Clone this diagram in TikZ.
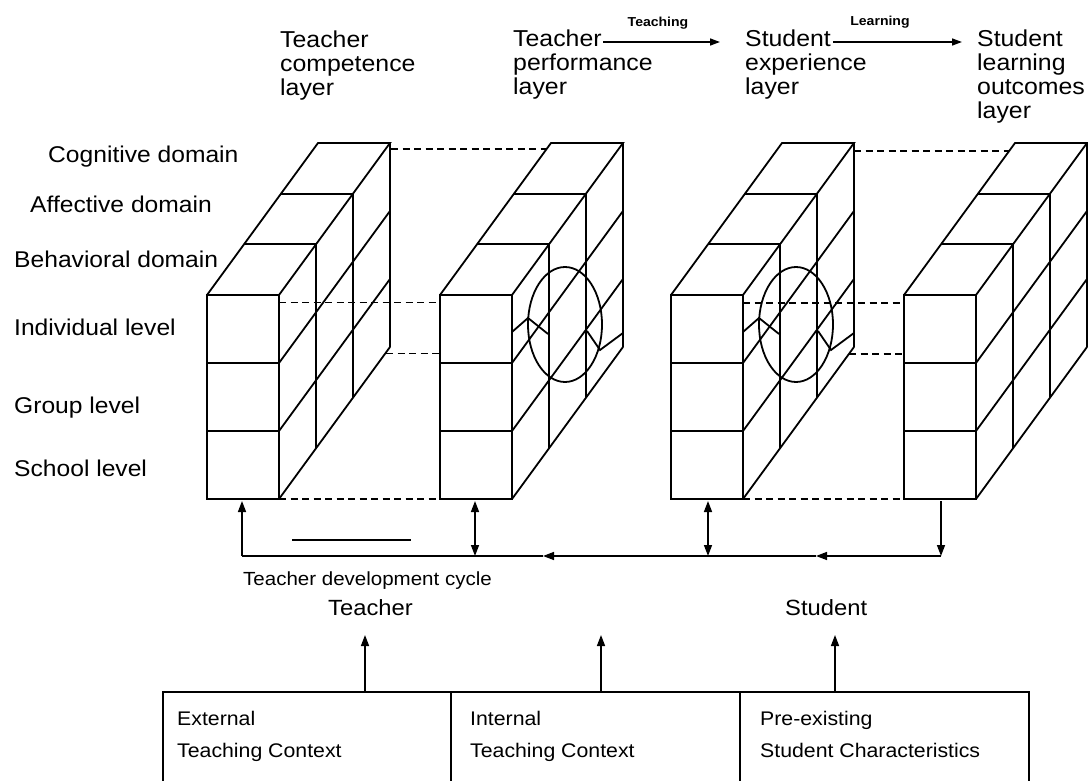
\documentclass[tikz,border=0pt]{standalone}
\usepackage{fontspec}
\setmainfont{Liberation Sans}[FakeStretch=1.08]
\usetikzlibrary{arrows.meta}

\tikzset{
  edge/.style={line width=1.8pt, line join=miter},
  dashline/.style={line width=1.7pt, dash pattern=on 7pt off 4.5pt},
  conn/.style={line width=1.5pt},
  tip/.style={-{Triangle[length=11pt,width=8pt]}},
  smalltip/.style={-{Triangle[length=10pt,width=7pt]}},
  dtip/.style={{Triangle[length=11pt,width=8pt]}-{Triangle[length=11pt,width=8pt]}},
  lbl/.style={inner sep=0pt, anchor=base west, font=\fontsize{22.8}{24}\selectfont},
  toplbl/.style={inner sep=0pt, anchor=base west, align=left, font=\fontsize{23}{24}\selectfont},
  boldlbl/.style={inner sep=0pt, anchor=base, font=\fontsize{13}{14}\selectfont\bfseries},
  boxtxt/.style={inner sep=0pt, anchor=base west, align=left, font=\fontsize{19.7}{32}\selectfont},
  boxcell/.style={draw, line width=1.5pt, minimum width=288pt, minimum height=120pt, anchor=north west, inner sep=0pt},
}

% block: #1 = x of front left edge, #2 = name
\newcommand\drawblock[2]{%
  \begin{scope}[shift={(#1,0)}]
    \coordinate (#2-ftl) at (0,295);
    \coordinate (#2-fbr) at (72,499);
    \draw[edge] (0,295) rectangle (72,499);
    \draw[edge] (0,363) -- (72,363) (0,431) -- (72,431);
    \draw[edge] (0,295) -- (111,143) -- (183,143) -- (72,295);
    \draw[edge] (37,244.33) -- (109,244.33) (74,193.67) -- (146,193.67);
    \draw[edge] (183,143) -- (183,347) (72,499) -- (183,347);
    \draw[edge] (72,363) -- (183,211) (72,431) -- (183,279);
    \draw[edge] (109,244.33) -- (109,448.33) (146,193.67) -- (146,397.67);
  \end{scope}}

\newcommand\drawbulge[2]{%
  \begin{scope}[shift={(#1,0)}]
    \draw[edge] (125,324.5) ellipse [x radius=37pt, y radius=57.5pt];
    \draw[edge] (72,332) -- (88,318) -- (108,334);
    \draw[edge] (147,331) -- (160,350) -- (183,333);
  \end{scope}}

\begin{document}
\begin{tikzpicture}[x=1pt,y=-1pt]
\useasboundingbox (0,0) rectangle (1088,781);

% blocks
\drawblock{207}{b1}
\drawblock{440}{b2}
\drawblock{671}{b3}
\drawblock{904}{b4}
\drawbulge{440}{b2}
\drawbulge{671}{b3}

% dashed links
\coordinate (d1a) at (391,149);  \coordinate (d1b) at (547,149);
\coordinate (d2a) at (279,302.5);\coordinate (d2b) at (440,302.5);
\coordinate (d3a) at (386,353.5);\coordinate (d3b) at (440,353.5);
\coordinate (d4a) at (279,499);  \coordinate (d4b) at (440,499);
\coordinate (d5a) at (854,151);  \coordinate (d5b) at (1009,151);
\coordinate (d6a) at (743,303);  \coordinate (d6b) at (904,303);
\coordinate (d7a) at (849,354);  \coordinate (d7b) at (904,354);
\coordinate (d8a) at (743,499);  \coordinate (d8b) at (904,499);
\foreach \i in {1,...,8} { \draw[dashline] (d\i a) -- (d\i b); }

% left labels
\node[lbl] (cog) at (48,162.7) {Cognitive domain};
\node[lbl] (aff) at (30,213) {Affective domain};
\node[lbl] (beh) at (14,267) {Behavioral domain};
\node[lbl] (ind) at (14,335) {Individual level};
\node[lbl] (grp) at (14,413) {Group level};
\node[lbl] (sch) at (14,476) {School level};

% top labels (base = last line)
\node[toplbl] (l1) at (280,96) {Teacher\\competence\\layer};
\node[toplbl] (l2) at (513,95) {Teacher\\performance\\layer};
\node[toplbl] (l3) at (745,95) {Student\\experience\\layer};
\node[toplbl] (l4) at (977,119) {Student\\learning\\outcomes\\layer};

\coordinate (ta) at (603,42); \coordinate (tb) at (720,42);
\draw[conn,smalltip] (ta) -- (tb);
\node[boldlbl] (teach) at (658,26.7) {Teaching};
\coordinate (la) at (833,42); \coordinate (lb) at (962,42);
\draw[conn,smalltip] (la) -- (lb);
\node[boldlbl] (learn) at (880,26) {Learning};

% teacher development cycle
\coordinate (u1) at (242,556);  \coordinate (u1t) at (242,501);
\coordinate (h2) at (543,556);  \coordinate (h3) at (816,556);
\coordinate (h4) at (941,556);  \coordinate (h4t) at (941,501);
\coordinate (v2a) at (475,501); \coordinate (v2b) at (475,556);
\coordinate (v3a) at (708,501); \coordinate (v3b) at (708,556);
\coordinate (sla) at (292,540); \coordinate (slb) at (411,540);
\draw[conn,tip] (u1) -- (u1t);
\draw[conn,tip] (h4t) -- (h4);
\draw[conn,tip] (h4) -- (h3);
\draw[conn,tip] (h3) -- (h2);
\draw[conn] (h2) -- (u1);
\draw[conn,dtip] (v2a) -- (v2b);
\draw[conn,dtip] (v3a) -- (v3b);
\draw[conn] (sla) -- (slb);

\node[inner sep=0pt, anchor=base west, font=\fontsize{19}{20}\selectfont] (tdc) at (243,585.7) {Teacher development cycle};
\node[inner sep=0pt, anchor=base west, font=\fontsize{22}{24}\selectfont] (teacher) at (328,615.7) {Teacher};
\node[inner sep=0pt, anchor=base west, font=\fontsize{22}{24}\selectfont] (student) at (785,615.7) {Student};

% context boxes
\node[boxcell] (ext) at (162,691) {};
\node[boxcell, minimum width=289pt] (int) at (450,691) {};
\node[boxcell, minimum width=289pt] (pre) at (739,691) {};
\node[boxtxt] (extT) at (177,757.5) {External\\Teaching Context};
\node[boxtxt] (intT) at (470,757.5) {Internal\\Teaching Context};
\node[boxtxt] (preT) at (760,757.5) {Pre-existing\\Student Characteristics};

\coordinate (a1s) at (365,691); \coordinate (a1e) at (365,635);
\coordinate (a2s) at (601,691); \coordinate (a2e) at (601,635);
\coordinate (a3s) at (835,691); \coordinate (a3e) at (835,635);
\draw[conn,tip] (a1s) -- (a1e);
\draw[conn,tip] (a2s) -- (a2e);
\draw[conn,tip] (a3s) -- (a3e);
\end{tikzpicture}
\end{document}
